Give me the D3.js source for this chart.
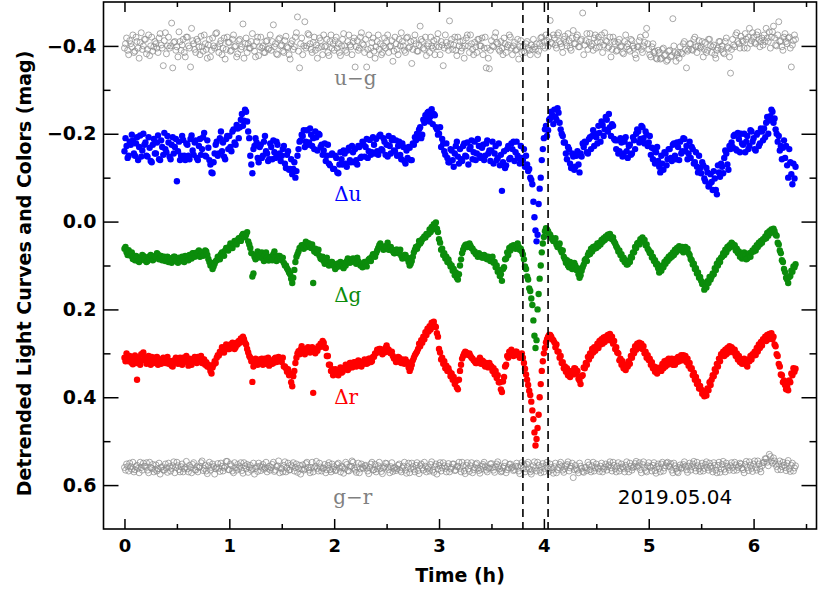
<!DOCTYPE html>
<html><head><meta charset="utf-8">
<script src="https://cdn.jsdelivr.net/npm/d3@7"></script>
<style>body{margin:0;background:#fff} svg{display:block}</style>
</head><body><svg id="c" width="830" height="593"></svg>
<script>
// observation cadence (hours) — samples start at t = 0 h, one value per step
const cadenceH = 0.01;
// Detrended light curves & colours in millimag (rows = 0.1 h blocks)
const duMmag = [
-160,-190,-172,-145,-150,-182,-175,-198,-185,-155,
-150,-178,-192,-140,-170,-196,-148,-162,-200,-175,
-180,-150,-148,-192,-168,-138,-135,-175,-188,-155,
-155,-180,-196,-142,-140,-185,-170,-152,-202,-165,
-158,-195,-180,-148,-142,-175,-192,-155,-170,-188,
-92,-160,-182,-140,-150,-195,-186,-150,-140,-178,
-175,-150,-142,-188,-196,-162,-152,-180,-185,-145,
-140,-172,-188,-152,-165,-192,-202,-150,-148,-185,
-168,-140,-130,-112,-110,-135,-155,-175,-182,-150,
-155,-190,-205,-160,-180,-148,-142,-188,-195,-165,
-195,-170,-160,-205,-210,-180,-175,-220,-212,-190,
-215,-232,-245,-218,-230,-255,-250,-228,-205,-190,
-150,-130,-110,-165,-172,-190,-180,-145,-135,-170,
-175,-145,-150,-182,-195,-160,-155,-138,-142,-178,
-170,-142,-185,-158,-145,-182,-175,-150,-155,-138,
-150,-165,-172,-132,-122,-152,-160,-118,-120,-142,
-108,-120,-135,-100,-115,-150,-165,-182,-185,-198,
-195,-208,-170,-182,-208,-175,-180,-212,-198,-172,
-190,-165,-205,-192,-162,-200,-198,-170,-175,-152,
-162,-178,-138,-150,-175,-132,-128,-152,-155,-120,
-120,-150,-145,-112,-110,-130,-158,-142,-130,-162,
-155,-132,-125,-162,-168,-140,-135,-172,-158,-135,
-165,-140,-130,-172,-170,-145,-148,-182,-175,-148,
-170,-188,-145,-160,-186,-152,-158,-192,-175,-155,
-188,-160,-152,-195,-198,-165,-162,-190,-182,-152,
-175,-148,-195,-172,-155,-185,-190,-162,-160,-185,
-150,-172,-182,-152,-142,-178,-170,-138,-132,-162,
-145,-170,-168,-140,-140,-178,-175,-192,-185,-200,
-190,-210,-215,-190,-198,-232,-225,-242,-232,-248,
-250,-228,-240,-256,-222,-245,-242,-215,-210,-198,
-200,-215,-170,-188,-178,-160,-152,-178,-145,-135,
-135,-165,-162,-140,-125,-155,-172,-182,-148,-132,
-165,-142,-138,-172,-178,-150,-148,-180,-130,-165,
-170,-185,-142,-158,-182,-140,-155,-188,-172,-150,
-145,-168,-175,-140,-150,-178,-185,-155,-162,-138,
-162,-182,-132,-155,-172,-140,-145,-178,-128,-152,
-70,-135,-160,-122,-128,-165,-172,-142,-145,-178,
-165,-182,-138,-158,-182,-150,-145,-132,-172,-145,
-140,-165,-125,-150,-130,-115,-120,-100,-95,-85,
-45,-10,20,45,30,-40,-75,-100,-140,-165,
-190,-210,-218,-195,-208,-232,-235,-250,-242,-222,
-255,-238,-232,-258,-248,-225,-210,-200,-195,-180,
-180,-155,-142,-170,-165,-132,-122,-155,-148,-118,
-125,-150,-160,-130,-112,-155,-148,-178,-170,-182,
-180,-158,-155,-188,-192,-165,-195,-208,-172,-200,
-192,-178,-218,-202,-182,-228,-220,-195,-210,-238,
-232,-205,-245,-215,-195,-222,-218,-188,-185,-165,
-185,-155,-160,-190,-180,-148,-155,-182,-192,-160,
-145,-172,-175,-152,-155,-192,-185,-165,-200,-210,
-205,-180,-188,-218,-215,-190,-178,-205,-198,-172,
-180,-195,-152,-168,-142,-165,-132,-158,-170,-138,
-125,-112,-150,-132,-118,-158,-155,-128,-142,-165,
-165,-145,-138,-175,-178,-150,-142,-180,-170,-140,
-182,-155,-160,-190,-188,-160,-172,-142,-155,-182,
-145,-170,-165,-132,-135,-158,-125,-112,-150,-122,
-110,-135,-128,-98,-92,-122,-112,-80,-85,-108,
-90,-72,-115,-98,-72,-62,-128,-112,-102,-132,
-125,-110,-145,-162,-155,-130,-118,-172,-165,-180,
-170,-195,-198,-165,-162,-202,-188,-158,-200,-178,
-175,-200,-158,-182,-195,-165,-172,-208,-205,-182,
-190,-165,-162,-198,-202,-172,-178,-212,-205,-185,
-212,-192,-225,-238,-200,-230,-240,-255,-250,-225,
-235,-210,-200,-182,-195,-162,-172,-142,-168,-185,
-145,-172,-128,-100,-165,-135,-108,-85,-132,-98,
-125];
const dgMmag = [
62,58,70,76,65,72,78,70,85,80,
88,78,80,90,92,84,85,76,78,88,
82,92,90,80,84,76,78,88,86,80,
80,72,75,86,84,78,88,82,80,90,
86,80,92,84,84,94,88,80,80,90,
88,94,82,86,90,80,84,92,78,84,
80,88,76,82,84,72,72,80,78,70,
74,66,80,76,70,78,76,66,68,76,
85,92,100,94,108,102,96,90,88,80,
80,86,74,70,70,78,66,60,60,66,
58,50,54,60,50,44,46,52,42,38,
38,44,32,28,28,36,30,24,45,52,
60,72,125,118,80,86,74,68,82,76,
78,70,84,90,76,70,82,88,88,80,
80,88,74,68,82,90,86,78,78,84,
88,82,94,100,100,106,110,116,120,130,
140,128,110,92,80,74,68,60,60,54,
55,62,52,46,58,50,50,56,60,52,
140,68,62,72,70,64,78,84,86,80,
90,96,86,82,94,100,98,92,92,100,
100,108,104,96,96,102,92,98,98,106,
94,100,90,84,86,94,92,86,84,90,
88,96,82,90,94,100,98,104,100,92,
96,102,90,86,84,90,80,74,76,80,
72,66,60,54,50,56,58,64,62,56,
56,48,64,58,58,66,66,72,72,64,
64,72,70,64,78,84,82,76,76,84,
82,92,100,96,90,80,70,64,58,62,
55,44,50,46,40,38,34,36,28,30,
28,18,24,12,18,6,12,2,16,24,
40,48,64,62,76,72,84,80,92,86,
95,102,100,112,108,122,116,128,132,120,
100,86,72,64,58,54,52,58,56,50,
55,60,62,68,68,74,74,80,72,76,
76,82,82,76,78,84,86,80,84,90,
88,80,94,92,104,100,114,110,124,120,
135,108,104,86,84,70,76,60,66,56,
60,54,56,62,54,50,58,64,62,68,
75,86,102,108,125,132,152,158,175,190,
225,260,288,270,200,165,130,100,70,50,
35,22,15,18,22,28,30,36,40,44,
45,38,52,58,55,50,64,70,66,80,
85,94,88,100,104,92,98,108,100,94,
100,110,106,120,128,122,112,104,98,88,
85,90,76,70,74,62,68,58,62,56,
60,50,56,48,52,42,46,38,42,34,
38,30,36,28,34,40,36,46,50,56,
60,68,66,76,74,86,82,92,88,98,
97,90,92,80,82,70,70,58,60,50,
48,52,40,44,36,46,42,54,52,62,
65,72,70,82,80,90,88,98,96,106,
116,108,112,100,104,92,96,86,90,80,
84,76,80,70,76,64,70,60,64,56,
60,66,58,70,64,58,66,62,72,76,
85,88,98,96,108,106,118,116,128,126,
135,142,140,155,146,150,136,140,126,132,
125,118,120,106,110,96,100,88,92,82,
80,72,76,64,70,58,62,54,58,48,
51,56,54,66,62,72,68,80,76,84,
80,70,78,86,84,74,72,80,70,66,
68,60,66,54,58,48,52,44,48,40,
40,34,38,26,32,22,26,18,24,16,
22,30,32,48,52,66,72,88,92,108,
115,128,132,140,126,124,112,114,102,104,
97];
const drMmag = [
310,318,300,312,318,306,312,322,325,314,
305,322,360,310,315,326,302,316,298,310,
312,324,320,306,316,326,308,318,322,310,
318,308,326,318,314,324,320,310,312,322,
316,308,324,318,318,328,330,316,320,310,
314,324,322,310,316,326,310,318,318,306,
320,328,312,318,326,314,318,308,310,322,
308,318,316,306,322,314,314,326,320,330,
326,332,340,346,332,326,318,322,310,304,
305,296,298,286,292,298,288,280,282,290,
290,280,284,276,278,290,286,276,280,272,
276,266,272,262,268,276,280,290,298,306,
310,318,365,330,320,312,315,326,322,314,
318,312,326,318,312,324,320,310,328,320,
316,324,322,312,310,320,318,308,312,318,
320,310,330,330,334,342,336,350,346,366,
375,352,340,322,310,300,295,302,292,284,
298,290,302,296,292,286,288,298,296,286,
390,296,300,290,294,284,286,278,280,272,
276,286,288,306,306,326,326,340,336,350,
345,336,338,348,350,340,332,344,342,334,
336,326,328,338,334,322,322,332,330,320,
320,330,326,316,318,328,330,320,324,314,
316,324,322,312,312,320,318,308,308,300,
300,292,296,290,290,298,302,294,298,288,
282,290,292,298,300,296,306,312,312,320,
316,308,310,320,322,314,318,324,314,320,
320,332,340,334,326,316,310,304,300,296,
290,278,284,270,276,262,268,252,258,244,
250,238,246,230,240,228,238,240,254,262,
290,298,314,310,324,318,334,328,340,334,
342,352,346,360,354,370,364,378,382,360,
340,326,312,306,300,296,298,302,304,300,
306,310,312,316,318,322,322,316,316,310,
324,316,318,326,330,322,326,332,322,328,
330,340,334,348,340,356,350,366,366,382,
388,364,354,330,326,306,310,296,304,292,
298,306,304,296,296,304,302,310,306,300,
310,322,335,348,360,372,385,395,410,430,
450,480,510,495,470,440,400,370,340,318,
300,288,275,268,262,258,258,262,268,270,
275,286,280,296,296,310,306,322,320,334,
330,342,334,350,340,354,346,340,348,334,
335,346,340,358,362,370,352,350,332,334,
322,326,308,314,300,306,290,298,286,294,
286,278,288,272,280,268,278,264,274,262,
268,258,270,256,270,262,278,272,290,286,
298,300,316,312,326,318,334,326,338,328,
330,318,324,306,310,294,300,284,292,278,
282,276,288,278,290,284,300,296,310,304,
315,312,326,320,334,330,342,332,346,336,
340,332,340,324,334,318,330,316,326,312,
316,322,312,326,316,326,312,320,308,318,
310,304,316,304,314,306,320,312,328,322,
335,334,350,344,360,354,370,364,380,374,
382,392,386,398,388,396,380,384,366,372,
360,350,352,336,342,324,330,312,318,302,
305,296,306,292,302,288,298,284,294,286,
290,298,292,306,300,314,306,320,314,324,
322,312,318,326,330,314,318,306,314,302,
305,296,304,288,296,280,288,274,282,268,
270,262,272,258,268,256,266,254,268,262,
280,284,302,306,324,330,348,350,366,362,
372,382,376,384,362,366,346,350,334,342,
335];
const ugMmag = [
-395,-405,-418,-390,-380,-412,-405,-398,-425,-385,
-388,-420,-410,-395,-372,-408,-430,-392,-400,-415,
-415,-382,-392,-425,-378,-400,-420,-388,-398,-410,
-405,-395,-385,-418,-428,-402,-395,-355,-412,-430,
-382,-400,-420,-395,-400,-452,-350,-408,-410,-390,
-398,-375,-432,-410,-390,-402,-415,-385,-375,-420,
-420,-400,-395,-352,-440,-412,-405,-392,-385,-415,
-410,-398,-380,-422,-398,-388,-425,-405,-392,-372,
-402,-415,-375,-390,-418,-400,-395,-428,-430,-398,
-385,-405,-412,-380,-395,-418,-370,-392,-420,-408,
-408,-388,-390,-415,-425,-398,-400,-375,-382,-412,
-415,-392,-398,-450,-372,-405,-418,-385,-405,-395,
-395,-410,-428,-400,-388,-375,-410,-420,-378,-398,
-420,-395,-400,-385,-385,-410,-412,-392,-395,-425,
-390,-410,-448,-398,-405,-382,-380,-415,-418,-400,
-402,-388,-385,-412,-422,-398,-396,-380,-370,-405,
-412,-392,-398,-420,-430,-466,-388,-350,-405,-418,
-380,-400,-455,-395,-400,-428,-425,-405,-392,-385,
-408,-420,-390,-402,-372,-395,-418,-412,-398,-380,
-425,-398,-400,-415,-385,-378,-410,-425,-395,-405,
-390,-412,-420,-395,-405,-385,-378,-400,-415,-428,
-400,-390,-385,-410,-425,-402,-398,-380,-410,-418,
-352,-398,-412,-390,-395,-420,-430,-405,-402,-385,
-415,-352,-392,-425,-380,-395,-408,-418,-388,-372,
-398,-410,-425,-392,-405,-380,-385,-400,-418,-395,
-410,-425,-385,-398,-400,-412,-365,-388,-420,-405,
-392,-380,-415,-400,-430,-410,-400,-390,-385,-418,
-420,-395,-398,-410,-360,-392,-412,-425,-405,-388,
-388,-402,-445,-415,-410,-395,-392,-420,-378,-400,
-405,-385,-420,-400,-395,-412,-380,-398,-415,-428,
-398,-380,-410,-402,-355,-395,-425,-408,-400,-390,
-457,-405,-415,-392,-402,-420,-390,-378,-420,-400,
-410,-388,-395,-412,-372,-400,-418,-425,-400,-385,
-425,-405,-392,-380,-408,-398,-385,-415,-415,-400,
-400,-418,-380,-395,-420,-350,-395,-372,-348,-390,
-412,-400,-398,-420,-430,-408,-405,-392,-388,-410,
-395,-380,-418,-405,-385,-398,-402,-425,-420,-395,
-380,-400,-408,-390,-392,-415,-370,-398,-412,-385,
-398,-388,-385,-405,-410,-395,-390,-380,-402,-392,
-415,-398,-392,-405,-380,-388,-405,-418,-420,-400,
-410,-395,-425,-412,-398,-420,-458,-408,-405,-425,
-418,-402,-395,-425,-430,-410,-405,-398,-385,-415,
-422,-408,-400,-428,-412,-395,-390,-418,-435,-405,
-405,-420,-425,-398,-398,-412,-415,-475,-380,-402,
-412,-428,-392,-408,-428,-400,-405,-390,-418,-425,
-395,-410,-420,-398,-408,-425,-385,-402,-430,-412,
-410,-395,-398,-420,-375,-392,-420,-410,-405,-388,
-390,-408,-415,-398,-400,-385,-382,-410,-425,-398,
-405,-392,-388,-415,-412,-400,-395,-380,-372,-398,
-398,-412,-420,-392,-385,-400,-408,-425,-440,-405,
-392,-380,-375,-398,-405,-385,-388,-372,-370,-390,
-385,-370,-372,-392,-395,-378,-380,-365,-368,-388,
-390,-375,-378,-462,-400,-385,-365,-380,-385,-372,
-398,-385,-382,-405,-410,-392,-350,-388,-392,-405,
-405,-392,-390,-415,-420,-398,-385,-400,-412,-395,
-398,-410,-375,-392,-408,-385,-390,-415,-415,-400,
-385,-398,-402,-380,-372,-390,-395,-410,-410,-392,
-400,-385,-382,-410,-418,-398,-395,-375,-338,-392,
-415,-402,-398,-425,-430,-410,-405,-395,-422,-412,
-410,-395,-428,-415,-395,-420,-440,-405,-412,-430,
-420,-408,-405,-425,-432,-415,-398,-410,-418,-402,
-425,-410,-440,-418,-410,-432,-395,-420,-432,-445,
-418,-402,-400,-425,-455,-410,-412,-398,-390,-420,
-428,-410,-405,-418,-420,-395,-352,-402,-412,-425,
-415];
const grMmag = [
560,566,552,558,568,550,558,564,548,570,
565,558,555,562,572,548,560,566,550,557,
558,549,566,572,548,560,562,553,570,564,
554,568,563,550,575,560,558,566,566,552,
561,571,550,558,568,562,556,547,572,560,
548,556,565,570,558,552,570,563,560,546,
563,570,555,560,572,553,549,565,566,558,
570,560,558,549,545,567,562,555,568,574,
556,548,566,560,552,558,575,563,560,551,
562,569,550,557,568,561,558,546,546,565,
565,552,556,568,572,549,560,566,553,562,
558,549,567,573,549,556,563,553,571,560,
555,566,562,550,575,562,558,569,550,557,
567,559,553,564,561,548,570,562,557,566,
560,553,548,569,566,558,556,545,572,561,
563,570,555,547,570,561,550,566,565,554,
558,549,568,560,552,571,562,555,575,564,
554,566,563,551,548,560,566,572,560,548,
570,561,557,546,562,568,550,559,568,562,
561,553,572,565,555,549,565,570,552,563,
558,567,566,553,550,561,570,557,560,573,
563,548,553,567,568,559,557,545,548,562,
566,571,559,550,572,563,552,560,562,556,
555,561,568,574,560,552,548,566,565,553,
570,563,556,548,562,569,574,561,558,550,
551,559,565,572,558,549,569,562,560,567,
563,555,552,566,570,561,557,548,566,573,
558,550,572,563,550,558,564,570,555,549,
567,574,556,552,561,566,548,557,570,563,
560,568,553,547,566,571,558,552,575,564,
555,549,568,561,549,556,562,570,558,551,
570,563,560,552,552,567,566,558,557,548,
562,570,548,556,568,574,555,549,563,569,
556,549,572,565,560,553,550,561,567,573,
564,557,553,548,558,566,570,562,561,552,
551,560,566,571,559,552,547,556,563,570,
568,561,557,549,572,565,560,553,552,561,
559,567,565,557,550,558,568,574,556,549,
562,554,570,563,553,548,563,570,575,566,
556,547,561,568,548,555,566,572,558,551,
570,562,555,548,562,569,552,560,565,573,
558,550,572,565,560,553,548,557,566,571,
563,556,553,547,568,561,557,550,583,565,
555,563,566,572,550,557,562,569,571,560,
560,567,548,554,565,570,556,548,568,561,
552,560,563,569,557,550,570,563,559,552,
566,558,554,547,561,568,548,555,563,570,
557,549,568,562,552,559,562,570,555,547,
563,570,550,557,566,560,558,551,546,559,
556,549,565,572,553,547,561,567,570,556,
549,558,560,568,555,549,567,573,558,552,
562,570,552,548,568,561,556,550,548,557,
558,551,566,572,550,556,563,569,572,560,
554,562,560,553,547,557,565,571,557,550,
566,558,552,546,561,568,548,556,563,569,
557,550,568,562,553,547,560,566,550,557,
562,570,549,555,566,572,555,548,571,563,
553,546,564,570,550,557,560,566,556,549,
560,567,548,554,566,560,557,550,552,561,
565,572,553,546,560,567,547,555,562,569,
552,545,560,566,545,552,563,570,556,549,
548,540,540,548,556,530,535,545,550,538,
545,552,558,565,552,545,565,558,548,555,
560,567,550,544,563,569,555,550,568,561,
556];

const xTicks = [0, 1, 2, 3, 4, 5, 6];
const xMinorTicks = [0.5, 1.5, 2.5, 3.5, 4.5, 5.5, 6.5];
const yTicks = [-0.4, -0.2, 0.0, 0.2, 0.4, 0.6];
const yMinorTicks = [-0.3, -0.1, 0.1, 0.3, 0.5];
const eclipseMarksH = [3.80, 4.04];
const seriesNames = ["u\u2212g", "\u0394u", "\u0394g", "\u0394r", "g\u2212r"];
const dateLabel = "2019.05.04";
const xTitle = "Time (h)";
const yTitle = "Detrended Light Curves and Colors (mag)";

// ---------- drawing ----------
const L = 103.5, R = 816.5, T = 2, B = 529;
const svg = d3.select("#c");
const x = d3.scaleLinear().domain([-0.2, 6.6]).range([L, R]);
const y = d3.scaleLinear().domain([-0.5, 0.7]).range([T, B]);
const toPts = arr => arr.map((m, i) => ({t: i * cadenceH, v: m / 1000}));

const series = [
  {name: seriesNames[0], pts: toPts(ugMmag), open: true, color: "#8c8c8c", lab: [2.0, -0.312], labColor: "#808080"},
  {name: seriesNames[4], pts: toPts(grMmag), open: true, color: "#8c8c8c", lab: [1.99, 0.642], labColor: "#808080"},
  {name: seriesNames[1], pts: toPts(duMmag), open: false, color: "#0000ff", lab: [2.0, -0.048], labColor: "#0000ff"},
  {name: seriesNames[2], pts: toPts(dgMmag), open: false, color: "#0b8c0b", lab: [2.0, 0.183], labColor: "#0b8c0b"},
  {name: seriesNames[3], pts: toPts(drMmag), open: false, color: "#ff0000", lab: [2.0, 0.415], labColor: "#ff0000"}
];

series.forEach(s => {
  svg.append("g").selectAll("circle").data(s.pts).join("circle")
    .attr("cx", d => x(d.t)).attr("cy", d => y(d.v))
    .attr("r", s.open ? 3.0 : 3.2)
    .attr("fill", s.open ? "none" : s.color)
    .attr("stroke", s.open ? s.color : "none")
    .attr("stroke-width", s.open ? 0.75 : 0);
});

series.forEach(s => {
  svg.append("text").attr("x", x(s.lab[0])).attr("y", y(s.lab[1]))
    .attr("font-family", "DejaVu Serif").attr("font-size", 20)
    .attr("fill", s.labColor).text(s.name);
});

svg.append("text").attr("x", x(4.705)).attr("y", y(0.643))
  .attr("font-family", "DejaVu Sans").attr("font-size", 20).attr("fill", "#000")
  .text(dateLabel);

// dashed eclipse markers
svg.selectAll("line.ecl").data(eclipseMarksH).join("line").attr("class", "ecl")
  .attr("x1", d => x(d)).attr("x2", d => x(d)).attr("y1", T).attr("y2", B)
  .attr("stroke", "#000").attr("stroke-width", 1.6).attr("stroke-dasharray", "8,5");

// axes
const fmtY = d3.format(".1f");
const styleAxis = g => {
  g.select(".domain").remove();
  g.selectAll("line").attr("stroke", "#000").attr("stroke-width", 1.5);
  g.selectAll("text").attr("font-family", "DejaVu Sans").attr("font-weight", "bold").attr("fill", "#000");
};
svg.append("g").attr("transform", `translate(0,${B})`)
  .call(d3.axisBottom(x).tickValues(xTicks).tickSize(-10).tickPadding(10).tickFormat(d3.format("d")))
  .call(styleAxis).selectAll("text").attr("font-size", 18);
svg.append("g").attr("transform", `translate(0,${B})`)
  .call(d3.axisBottom(x).tickValues(xMinorTicks).tickSize(-5).tickFormat(""))
  .call(styleAxis);
svg.append("g").attr("transform", `translate(0,${T})`)
  .call(d3.axisTop(x).tickValues(xTicks).tickSize(-10).tickFormat(""))
  .call(styleAxis);
svg.append("g").attr("transform", `translate(0,${T})`)
  .call(d3.axisTop(x).tickValues(xMinorTicks).tickSize(-5).tickFormat(""))
  .call(styleAxis);
svg.append("g").attr("transform", `translate(${L},0)`)
  .call(d3.axisLeft(y).tickValues(yTicks).tickSize(-15).tickPadding(7).tickFormat(fmtY))
  .call(styleAxis).selectAll("text").attr("font-size", 19);
svg.append("g").attr("transform", `translate(${L},0)`)
  .call(d3.axisLeft(y).tickValues(yMinorTicks).tickSize(-7).tickFormat(""))
  .call(styleAxis);
svg.append("g").attr("transform", `translate(${R},0)`)
  .call(d3.axisRight(y).tickValues(yTicks).tickSize(-15).tickFormat(""))
  .call(styleAxis);
svg.append("g").attr("transform", `translate(${R},0)`)
  .call(d3.axisRight(y).tickValues(yMinorTicks).tickSize(-7).tickFormat(""))
  .call(styleAxis);

svg.append("rect").attr("x", L).attr("y", T).attr("width", R - L).attr("height", B - T)
  .attr("fill", "none").attr("stroke", "#000").attr("stroke-width", 1.6);

svg.append("text").attr("x", (L + R) / 2).attr("y", 582)
  .attr("text-anchor", "middle").attr("font-family", "DejaVu Sans").attr("font-weight", "bold")
  .attr("font-size", 19).attr("fill", "#000").text(xTitle);
svg.append("text").attr("transform", `translate(31,${(T + B) / 2 + 8}) rotate(-90)`)
  .attr("text-anchor", "middle").attr("font-family", "DejaVu Sans").attr("font-weight", "bold")
  .attr("font-size", 19).attr("fill", "#000").text(yTitle);
</script></body></html>
